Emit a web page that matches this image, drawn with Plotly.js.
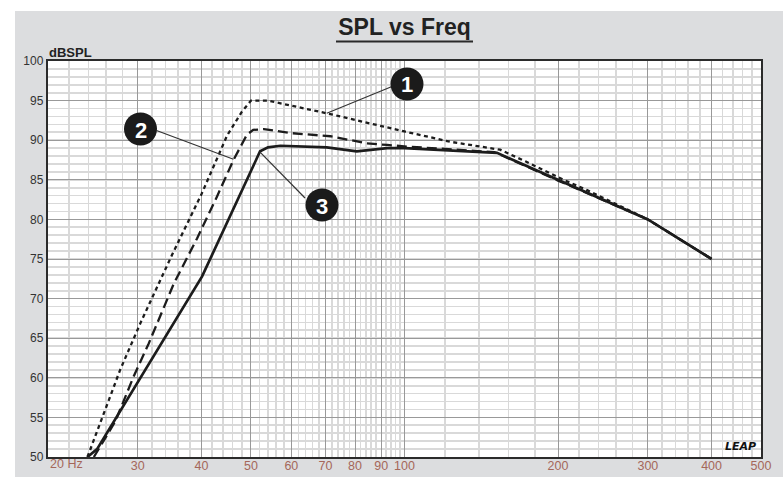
<!DOCTYPE html>
<html>
<head>
<meta charset="utf-8">
<script src="https://cdn.plot.ly/plotly-3.0.1.min.js"></script>
<style>html,body{margin:0;padding:0;background:#fff;}#chart{width:783px;height:477px;}</style>
</head>
<body>
<div id="chart"></div>
<script>
// ---- data ----
var freq1 = [23.9, 27.7, 30.4, 35, 40, 44.9, 48, 50, 54, 70.4, 100, 123, 154, 173, 205, 228, 300, 400];
var spl1  = [50, 61, 67, 75.5, 83.2, 90.6, 93.6, 95, 95, 93.4, 91.1, 89.8, 88.8, 87.3, 85.0, 83.7, 80, 75];

var freq2 = [24.6, 27.1, 29.5, 31.5, 35.3, 39.2, 42.9, 46.2, 49.1, 50.5, 53, 59.7, 71.6, 84.4, 92.5, 101, 150, 200, 300, 400];
var spl2  = [50, 54.5, 60.3, 64.3, 71.9, 77.6, 82.9, 87.5, 90.7, 91.3, 91.4, 90.9, 90.5, 89.6, 89.4, 89.2, 88.5, 84.9, 80, 75];

var freq3 = [23.9, 24.96, 40.1, 52.1, 54, 57.1, 70.4, 80.6, 92.5, 100, 151.8, 220, 300, 400];
var spl3  = [50, 51, 72.8, 88.6, 89.1, 89.3, 89.1, 88.6, 89.0, 89.0, 88.4, 83.8, 80.0, 75];

var xTickVals = [20, 30, 40, 50, 60, 70, 80, 90, 100, 200, 300, 400, 500];
var xTickText = ['', '30', '40', '50', '60', '70', '80', '90', '100', '200', '300', '400', '500'];
var yTickVals = [50, 55, 60, 65, 70, 75, 80, 85, 90, 95, 100];
var yTickText = ['50', '55', '60', '65', '70', '75', '80', '85', '90', '95', '100'];

var calloutLabels = ['1', '2', '3'];
// curve points the callout leaders point to (freq, dBSPL)
var leaderFreq = [70.4, 46.2, 52.1];
var leaderSpl  = [93.4, 87.6, 88.5];

// ---- layout helpers ----
var M = {l: 48, r: 22, t: 61, b: 20};
var W = 783, H = 477;
var PW = W - M.l - M.r, PH = H - M.t - M.b;
function pxX(px) { return (px - M.l) / PW; }
function pxY(py) { return (H - M.b - py) / PH; }
var LX0 = Math.log10(20), LX1 = Math.log10(500);
function dX(f) { return (Math.log10(f) - LX0) / (LX1 - LX0); }
function dY(v) { return (v - 50) / 50; }

// minor x gridlines
var xMinor = [];
for (var f = 22; f < 100; f += 2) { if (f % 10 !== 0) xMinor.push(f); }
for (var g = 120; g < 500; g += 20) { if (g % 100 !== 0) xMinor.push(g); }

var traces = [
  {x: freq1, y: spl1, mode: 'lines', line: {color: '#1c1c1c', width: 2.3, dash: '4px,3.5px'}, hoverinfo: 'skip'},
  {x: freq2, y: spl2, mode: 'lines', line: {color: '#1c1c1c', width: 2.3, dash: '10px,5px'}, hoverinfo: 'skip'},
  {x: freq3, y: spl3, mode: 'lines', line: {color: '#1c1c1c', width: 2.7}, hoverinfo: 'skip'}
];

// callout circle centres in pixels (layout decoration) and leader end at circle
var circPx = [[407, 84], [140.5, 129], [322, 205]];
var leaderEndPx = [[392, 86.5], [156.5, 130.5], [305, 198]];

var shapes = [
  {type: 'rect', xref: 'paper', yref: 'paper', x0: pxX(0), x1: pxX(W), y0: pxY(11), y1: pxY(0), fillcolor: '#ffffff', line: {width: 0}, layer: 'below'},
  {type: 'rect', xref: 'paper', yref: 'paper', x0: pxX(0), x1: pxX(15), y0: pxY(H), y1: pxY(0), fillcolor: '#ffffff', line: {width: 0}, layer: 'below'},
  {type: 'line', xref: 'paper', yref: 'paper', x0: pxX(336), x1: pxX(473), y0: pxY(41.5), y1: pxY(41.5), line: {color: '#2a2a2a', width: 2}}
];
var annotations = [];
for (var i = 0; i < calloutLabels.length; i++) {
  shapes.push({type: 'line', xref: 'paper', yref: 'paper',
    x0: dX(leaderFreq[i]), y0: dY(leaderSpl[i]), x1: pxX(leaderEndPx[i][0]), y1: pxY(leaderEndPx[i][1]),
    line: {color: '#333', width: 1.2}});
}
for (var j = 0; j < calloutLabels.length; j++) {
  shapes.push({type: 'circle', xref: 'paper', yref: 'paper', xsizemode: 'pixel', ysizemode: 'pixel',
    xanchor: pxX(circPx[j][0]), yanchor: pxY(circPx[j][1]), x0: -16.5, x1: 16.5, y0: -16.5, y1: 16.5,
    fillcolor: '#1b1b1b', line: {color: '#1b1b1b', width: 0}});
  annotations.push({xref: 'paper', yref: 'paper', x: pxX(circPx[j][0]), y: pxY(circPx[j][1] + 1),
    text: '<b>' + calloutLabels[j] + '</b>', showarrow: false, xanchor: 'center', yanchor: 'middle',
    font: {family: 'Liberation Sans, Arial, sans-serif', size: 22, color: '#ffffff'}});
}
annotations.push({xref: 'paper', yref: 'paper', x: pxX(47), y: pxY(52), xanchor: 'left', yanchor: 'middle',
  text: '<b>dBSPL</b>', showarrow: false, font: {family: 'Liberation Sans, Arial, sans-serif', size: 13, color: '#222'}});
annotations.push({xref: 'paper', yref: 'paper', x: 0, y: pxY(464), xanchor: 'left', yanchor: 'middle',
  text: '20 Hz', showarrow: false, font: {family: 'Liberation Sans, Arial, sans-serif', size: 12.5, color: '#a5675a'}});
annotations.push({xref: 'paper', yref: 'paper', x: pxX(758), y: pxY(455), xanchor: 'right', yanchor: 'bottom',
  text: '<b><i>LEAP</i></b>', showarrow: false, font: {family: 'DejaVu Sans, sans-serif', size: 11, color: '#111'}});

var layout = {
  width: W, height: H,
  margin: M,
  paper_bgcolor: '#dcdddf',
  plot_bgcolor: '#ffffff',
  showlegend: false,
  font: {family: 'Liberation Sans, Arial, sans-serif'},
  title: {text: '<b>SPL vs Freq</b>', x: 0.5, xref: 'paper', xanchor: 'center', y: 1 - 27 / H, yref: 'container', yanchor: 'middle',
    font: {family: 'Liberation Sans, Arial, sans-serif', size: 23, color: '#222'}},
  xaxis: {
    type: 'log', range: [LX0, LX1], tickmode: 'array', tickvals: xTickVals, ticktext: xTickText,
    showgrid: true, gridcolor: '#999999', gridwidth: 1,
    minor: {tickmode: 'array', tickvals: xMinor, showgrid: true, gridcolor: '#d9d9d9', gridwidth: 1.7, ticks: ''},
    showline: true, mirror: true, linecolor: '#2b2b2b', linewidth: 2.2,
    ticks: '', zeroline: false, fixedrange: true, ticklabelstandoff: -4,
    tickfont: {size: 12.5, color: '#a5675a'}
  },
  yaxis: {
    range: [50, 100], tickmode: 'array', tickvals: yTickVals, ticktext: yTickText,
    showgrid: true, gridcolor: '#999999', gridwidth: 1,
    minor: {dtick: 1, showgrid: true, gridcolor: '#d9d9d9', gridwidth: 1.7, ticks: ''},
    showline: true, mirror: true, linecolor: '#2b2b2b', linewidth: 2.2,
    ticks: '', zeroline: false, fixedrange: true,
    tickfont: {size: 12, color: '#333'}
  },
  shapes: shapes,
  annotations: annotations
};

Plotly.newPlot('chart', traces, layout, {displayModeBar: false, staticPlot: true});
</script>
</body>
</html>
